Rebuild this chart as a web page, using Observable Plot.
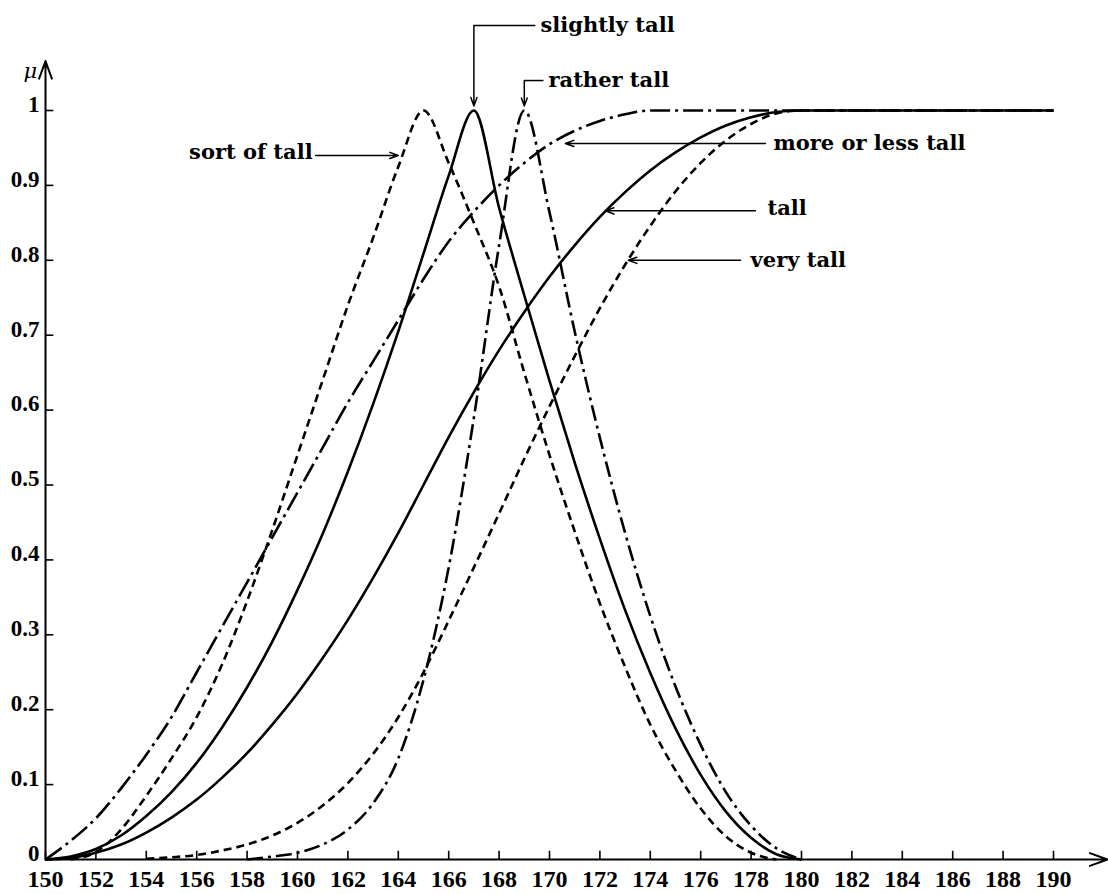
<!DOCTYPE html>
<html><head><meta charset="utf-8">
<script src="https://cdn.jsdelivr.net/npm/d3@7"></script>
<script src="https://cdn.jsdelivr.net/npm/@observablehq/plot@0.6"></script>
<style>body{margin:0;background:#fff}</style>
</head><body><div id="chart"></div>
<script>
// heights (cm)
const heights = [150,151,152,153,154,155,156,157,158,159,160,161,162,163,164,165,166,167,168,169,170,171,172,173,174,175,176,177,178,179,180,181,182,183,184,185,186,187,188,189,190];

const tall = [0,0.002,0.009,0.02,0.036,0.056,0.08,0.109,0.142,0.18,0.222,0.269,0.32,0.376,0.436,0.5,0.564,0.624,0.68,0.731,0.778,0.82,0.858,0.891,0.92,0.944,0.964,0.98,0.991,0.998,1,1,1,1,1,1,1,1,1,1,1];
const veryTall = [null,null,null,null,0.001,0.003,0.006,0.012,0.02,0.032,0.049,0.072,0.102,0.141,0.19,0.25,0.319,0.39,0.462,0.535,0.605,0.672,0.736,0.794,0.846,0.892,0.93,0.96,0.982,0.996,1,1,1,1,1,1,1,1,1,1,1];
const moreOrLessTall = [0,0.025,0.055,0.095,0.14,0.19,0.25,0.31,0.37,0.43,0.49,0.55,0.61,0.665,0.72,0.775,0.825,0.865,0.9,0.93,0.955,0.973,0.986,0.995,1,1,1,1,1,1,1,1,1,1,1,1,1,1,1,1,1];
const slightlyTall = [0,0.004,0.014,0.032,0.058,0.09,0.129,0.176,0.23,0.291,0.36,0.435,0.518,0.608,0.705,0.809,0.913,1,0.87,0.753,0.639,0.53,0.428,0.333,0.249,0.175,0.113,0.064,0.029,0.007,0,null,null,null,null,null,null,null,null,null,null];
const ratherTall = [null,null,null,null,null,null,null,null,0,0.004,0.009,0.02,0.04,0.075,0.135,0.24,0.39,0.59,0.82,1,0.864,0.705,0.563,0.436,0.325,0.231,0.153,0.09,0.045,0.015,0,null,null,null,null,null,null,null,null,null,null];
const sortOfTall = [null,0,0.01,0.04,0.085,0.135,0.19,0.26,0.345,0.44,0.54,0.64,0.74,0.83,0.925,1,0.93,0.85,0.765,0.65,0.54,0.438,0.342,0.257,0.18,0.119,0.068,0.031,0.009,0,null,null,null,null,null,null,null,null,null,null,null];

const xTicks = [150,152,154,156,158,160,162,164,166,168,170,172,174,176,178,180,182,184,186,188,190];
const yTicks = [0,0.1,0.2,0.3,0.4,0.5,0.6,0.7,0.8,0.9,1];
const yTickLabels = ["0","0.1","0.2","0.3","0.4","0.5","0.6","0.7","0.8","0.9","1"];

// annotation labels: text, anchor point in data units
const labelNames = ["slightly tall","rather tall","sort of tall","more or less tall","tall","very tall"];
const labelX = [169.64,169.96,160.6,178.89,178.65,177.98];
const labelY = [1.1135,1.04,0.944,0.956,0.869,0.8];
const labelAnchor = ["start","start","end","start","start","start"];
// arrow segments (from -> to) in data units
const arrowFrom = [[167,1.1135],[169,1.04],[160.72,0.94],[178.57,0.956],[178.17,0.866],[177.58,0.8]];
const arrowTo   = [[167,1.006],[169,1.006],[164.0,0.94],[170.63,0.956],[172.22,0.866],[173.13,0.8]];
const elbowFrom = [[169.44,1.1135],[169.76,1.04]];
const elbowTo   = [[167,1.1135],[169,1.04]];

const styles = {
  tall: {dash: null},
  veryTall: {dash: "8,5"},
  moreOrLessTall: {dash: "20,5,3,5"},
  slightlyTall: {dash: null},
  ratherTall: {dash: "16,5,3,5"},
  sortOfTall: {dash: "8,5"}
};
const seriesData = {tall, veryTall, moreOrLessTall, slightlyTall, ratherTall, sortOfTall};
function rows(values) {
  return heights.map((h, i) => ({x: h, y: values[i]})).filter(d => d.y != null);
}

const serif = "'DejaVu Serif', serif";
const numFont = "'Liberation Serif', 'Times New Roman', serif";

const marks = [];
for (const [name, vals] of Object.entries(seriesData)) {
  marks.push(Plot.line(rows(vals), {x: "x", y: "y", curve: "monotone-x", stroke: "#000", strokeWidth: 2.6,
    strokeDasharray: styles[name].dash ?? undefined, strokeLinecap: "butt"}));
}
// axes
marks.push(Plot.arrow([0], {x1: 150, y1: 0, x2: 192.14, y2: 0, stroke: "#000", strokeWidth: 2, headLength: 14, headAngle: 40}));
marks.push(Plot.arrow([0], {x1: 150, y1: 0, x2: 150, y2: 1.066, stroke: "#000", strokeWidth: 2, headLength: 14, headAngle: 40}));
marks.push(Plot.ruleX(xTicks, {x: d => d, y1: 0, y2: 0.011, stroke: "#000", strokeWidth: 1.6}));
marks.push(Plot.ruleY(yTicks, {y: d => d, x1: 150, x2: 150.33, stroke: "#000", strokeWidth: 1.6}));
marks.push(Plot.text(xTicks, {x: d => d, y: 0, dy: 20, text: d => String(d), fontSize: 24, fontWeight: "bold", fontFamily: numFont, fill: "#000"}));
marks.push(Plot.text(yTicks, {x: 150, y: d => d, dx: -6, dy: -6, textAnchor: "end", text: (d, i) => yTickLabels[i], fontSize: 23, fontWeight: "bold", fontFamily: numFont, fill: "#000"}));
marks.push(Plot.text(["μ"], {x: 149.4, y: 1.052, text: d => d, fontSize: 21, fontStyle: "italic", fontFamily: serif, fill: "#000"}));
// annotations
marks.push(Plot.link(elbowFrom.map((f, i) => ({f, t: elbowTo[i]})), {x1: d => d.f[0], y1: d => d.f[1], x2: d => d.t[0], y2: d => d.t[1], stroke: "#000", strokeWidth: 1.5}));
marks.push(Plot.arrow(arrowFrom.map((f, i) => ({f, t: arrowTo[i]})), {x1: d => d.f[0], y1: d => d.f[1], x2: d => d.t[0], y2: d => d.t[1], stroke: "#000", strokeWidth: 1.5, headLength: 9, headAngle: 40}));
marks.push(Plot.text(labelNames.map((n, i) => ({n, x: labelX[i], y: labelY[i], a: labelAnchor[i]})).filter(d => d.a === "start"), {x: "x", y: "y", text: "n", textAnchor: "start", fontSize: 21, fontWeight: "bold", fontFamily: serif, fill: "#000"}));
marks.push(Plot.text(labelNames.map((n, i) => ({n, x: labelX[i], y: labelY[i], a: labelAnchor[i]})).filter(d => d.a === "end"), {x: "x", y: "y", text: "n", textAnchor: "end", fontSize: 21, fontWeight: "bold", fontFamily: serif, fill: "#000"}));

const chart = Plot.plot({
  width: 1108, height: 894,
  marginLeft: 45, marginRight: 55, marginTop: 110, marginBottom: 35,
  x: {domain: [150, 190], axis: null},
  y: {domain: [0, 1], axis: null},
  style: {background: "#fff", overflow: "visible"},
  marks
});
document.getElementById("chart").appendChild(chart);
</script>
</body></html>
